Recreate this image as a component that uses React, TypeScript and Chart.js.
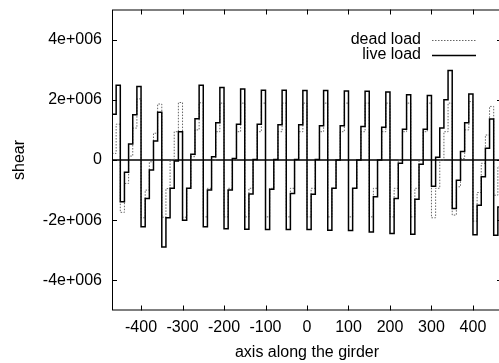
import React, { useEffect, useRef } from "react";
import { Chart, registerables } from "chart.js";

Chart.register(...registerables);

// Segment boundaries along the girder (each segment holds one constant shear value)
const xBreaks = [
  -470, -460, -450, -440, -430, -420, -410, -400, -390, -380, -370, -360, -350, -340, -330, -320,
  -310, -300, -290, -280, -270, -260, -250, -240, -230, -220, -210, -200, -190, -180, -170, -160,
  -150, -140, -130, -120, -110, -100, -90, -80, -70, -60, -50, -40, -30, -20, -10, 0,
  10, 20, 30, 40, 50, 60, 70, 80, 90, 100, 110, 120, 130, 140, 150, 160,
  170, 180, 190, 200, 210, 220, 230, 240, 250, 260, 270, 280, 290, 300, 310, 320,
  330, 340, 350, 360, 370, 380, 390, 400, 410, 420, 430, 440, 450, 460, 470,
];

// Live load shear per segment
const liveLoad = [
  1.52e6, 2.48e6,
  -1.39e6, -0.41e6, 0.53e6, 1.5e6, 2.44e6,
  -2.22e6, -1.28e6, -0.33e6, 0.63e6, 1.59e6,
  -2.89e6, -1.92e6, -0.94e6, -0.03e6, 0.94e6,
  -2.0e6, -0.94e6, 0.19e6, 1.37e6, 2.48e6,
  -2.22e6, -1.0e6, 0.11e6, 1.24e6, 2.41e6,
  -2.28e6, -1.0e6, 0.05e6, 1.19e6, 2.36e6,
  -2.3e6, -1.13e6, 0.02e6, 1.19e6, 2.32e6,
  -2.31e6, -0.97e6, 0.02e6, 1.17e6, 2.32e6,
  -2.31e6, -1.11e6, 0.02e6, 1.17e6, 2.31e6,
  -2.31e6, -1.14e6, 0.02e6, 1.14e6, 2.31e6,
  -2.33e6, -0.94e6, 0.0, 1.14e6, 2.29e6,
  -2.34e6, -0.94e6, 0.0, 1.11e6, 2.28e6,
  -2.39e6, -1.22e6, 0.0, 1.09e6, 2.26e6,
  -2.44e6, -1.28e6, -0.11e6, 1.02e6, 2.17e6,
  -2.47e6, -1.3e6, -0.14e6, 1.02e6, 2.14e6,
  -0.87e6, 0.09e6, 1.06e6, 2.0e6, 2.97e6,
  -1.61e6, -0.67e6, 0.28e6, 1.24e6, 2.19e6,
  -2.48e6, -1.5e6, -0.56e6, 0.39e6, 1.36e6,
  -2.5e6, -1.56e6,
];

// Dead load shear per segment
const deadLoad = [
  0.22e6, 1.19e6,
  -1.74e6, -0.78e6, 0.13e6, 1.06e6, 2.03e6,
  -1.92e6, -1.0e6, -0.06e6, 0.89e6, 1.86e6,
  -1.9e6, -0.95e6, 0.0, 0.94e6, 1.91e6,
  -1.9e6, -0.94e6, 0.11e6, 1.0e6, 1.9e6,
  -1.89e6, -0.94e6, 0.0, 0.94e6, 1.89e6,
  -1.89e6, -0.94e6, 0.0, 0.94e6, 1.89e6,
  -1.89e6, -0.94e6, 0.0, 0.94e6, 1.89e6,
  -1.89e6, -0.94e6, 0.0, 0.94e6, 1.89e6,
  -1.89e6, -0.94e6, 0.0, 0.94e6, 1.89e6,
  -1.89e6, -0.94e6, 0.0, 0.94e6, 1.89e6,
  -1.89e6, -0.94e6, 0.0, 0.94e6, 1.89e6,
  -1.89e6, -0.94e6, 0.0, 0.94e6, 1.89e6,
  -1.89e6, -0.94e6, 0.0, 0.94e6, 1.89e6,
  -1.89e6, -0.94e6, 0.0, 0.94e6, 1.89e6,
  -1.89e6, -0.94e6, 0.0, 0.94e6, 1.89e6,
  -1.92e6, -0.94e6, 0.0, 0.94e6, 1.89e6,
  -1.83e6, -0.89e6, 0.05e6, 1.0e6, 1.94e6,
  -2.03e6, -1.08e6, -0.11e6, 0.83e6, 1.78e6,
  -1.17e6, -0.22e6,
];

const xTicks = [-400, -300, -200, -100, 0, 100, 200, 300, 400];
const yTicks = [-4e6, -2e6, 0, 2e6, 4e6];
const yTickLabels = ["-4e+006", "-2e+006", "0", "2e+006", "4e+006"];
const seriesLabels = ["dead load", "live load"];
const xTitle = "axis along the girder";
const yTitle = "shear";

const FONT_FAMILY = '"Liberation Sans", Arial, Helvetica, sans-serif';
const FONT = { family: FONT_FAMILY, size: 16, lineHeight: 1.2 };

function toSteps(values: number[]) {
  const pts: { x: number; y: number }[] = [];
  values.forEach((v, i) => {
    pts.push({ x: xBreaks[i], y: v });
    pts.push({ x: xBreaks[i + 1], y: v });
  });
  return pts;
}

const framePlugin = {
  id: "gnuframe",
  beforeDatasetsDraw(chart: any) {
    const { ctx, chartArea, scales } = chart;
    const y0 = scales.y.getPixelForValue(0);
    ctx.save();
    ctx.strokeStyle = "#000";
    ctx.lineWidth = 1.5;
    ctx.beginPath();
    ctx.moveTo(chartArea.left, y0);
    ctx.lineTo(chartArea.right, y0);
    ctx.stroke();
    ctx.restore();
  },
  afterDatasetsDraw(chart: any) {
    const { ctx, chartArea, scales } = chart;
    const { left, right, top, bottom } = chartArea;
    ctx.save();
    ctx.strokeStyle = "#000";
    ctx.lineWidth = 1;
    ctx.strokeRect(left + 0.5, top + 0.5, right - left - 1, bottom - top - 1);
    const tl = 5;
    ctx.beginPath();
    xTicks.forEach((v) => {
      const px = Math.round(scales.x.getPixelForValue(v)) + 0.5;
      ctx.moveTo(px, bottom);
      ctx.lineTo(px, bottom - tl);
      ctx.moveTo(px, top);
      ctx.lineTo(px, top + tl);
    });
    yTicks.forEach((v) => {
      const py = Math.round(scales.y.getPixelForValue(v)) + 0.5;
      ctx.moveTo(left, py);
      ctx.lineTo(left + tl, py);
      ctx.moveTo(right, py);
      ctx.lineTo(right - tl, py);
    });
    ctx.stroke();
    ctx.restore();
  },
  afterDraw(chart: any) {
    const { ctx, chartArea } = chart;
    const ds = chart.data.datasets;
    const entries = [ds[1], ds[0]];
    ctx.save();
    ctx.font = `16px ${FONT_FAMILY}`;
    ctx.textAlign = "right";
    ctx.textBaseline = "middle";
    ctx.fillStyle = "#000";
    entries.forEach((d: any, i: number) => {
      const y = chartArea.top + 30.5 + i * 15;
      ctx.fillText(d.label, chartArea.right - 81, y);
      ctx.beginPath();
      ctx.strokeStyle = d.borderColor;
      ctx.lineWidth = d.borderWidth;
      ctx.setLineDash(d.borderDash || []);
      ctx.moveTo(chartArea.right - 70, y + 0.5);
      ctx.lineTo(chartArea.right - 26, y + 0.5);
      ctx.stroke();
    });
    ctx.restore();
  },
};

export default function App() {
  const ref = useRef<HTMLCanvasElement | null>(null);

  useEffect(() => {
    if (!ref.current) return;
    const chart = new Chart(ref.current, {
      type: "line",
      data: {
        datasets: [
          {
            label: seriesLabels[1],
            data: toSteps(liveLoad),
            borderColor: "#000000",
            borderWidth: 1.5,
            pointRadius: 0,
            fill: false,
            tension: 0,
            order: 0,
          },
          {
            label: seriesLabels[0],
            data: toSteps(deadLoad),
            borderColor: "#666666",
            borderWidth: 1,
            borderDash: [1.5, 1.5],
            pointRadius: 0,
            fill: false,
            tension: 0,
            order: 1,
          },
        ],
      },
      options: {
        responsive: false,
        animation: false,
        devicePixelRatio: 1,
        layout: { padding: { top: 9.5, right: 8, left: 0, bottom: 0 } },
        plugins: { legend: { display: false }, tooltip: { enabled: false } },
        scales: {
          x: {
            type: "linear",
            min: -470,
            max: 470,
            afterBuildTicks: (s: any) => {
              s.ticks = xTicks.map((v) => ({ value: v }));
            },
            afterFit: (s: any) => {
              s.height = 52.5;
              s.paddingLeft = 0;
              s.paddingRight = 0;
              s.paddingTop = 0;
              s.paddingBottom = 0;
            },
            grid: { display: false, drawTicks: false },
            border: { display: false },
            ticks: {
              padding: 7.5,
              color: "#000",
              font: FONT,
              maxRotation: 0,
              autoSkip: false,
              callback: (v: any) => String(v),
            },
            title: {
              display: true,
              text: xTitle,
              color: "#000",
              font: FONT,
              padding: { top: 0, bottom: 1 },
            },
          },
          y: {
            type: "linear",
            min: -5e6,
            max: 5e6,
            afterBuildTicks: (s: any) => {
              s.ticks = yTicks.map((v) => ({ value: v }));
            },
            afterFit: (s: any) => {
              s.width = 112;
              s.paddingLeft = 0;
              s.paddingRight = 0;
              s.paddingTop = 0;
              s.paddingBottom = 0;
            },
            grid: { display: false, drawTicks: false },
            border: { display: false },
            ticks: {
              padding: 10,
              color: "#000",
              font: FONT,
              autoSkip: false,
              callback: (v: any) => {
                const i = yTicks.indexOf(Number(v));
                return i >= 0 ? yTickLabels[i] : "";
              },
            },
            title: {
              display: true,
              text: yTitle,
              color: "#000",
              font: FONT,
              padding: { top: 10, bottom: 0 },
            },
          },
        },
      },
      plugins: [framePlugin],
    } as any);
    return () => chart.destroy();
  }, []);

  return (
    <div
      style={{
        position: "fixed",
        left: 0,
        top: 0,
        width: 499,
        height: 363,
        overflow: "hidden",
        background: "#fff",
      }}
    >
      <canvas ref={ref} width={510} height={363} style={{ display: "block" }} />
    </div>
  );
}
